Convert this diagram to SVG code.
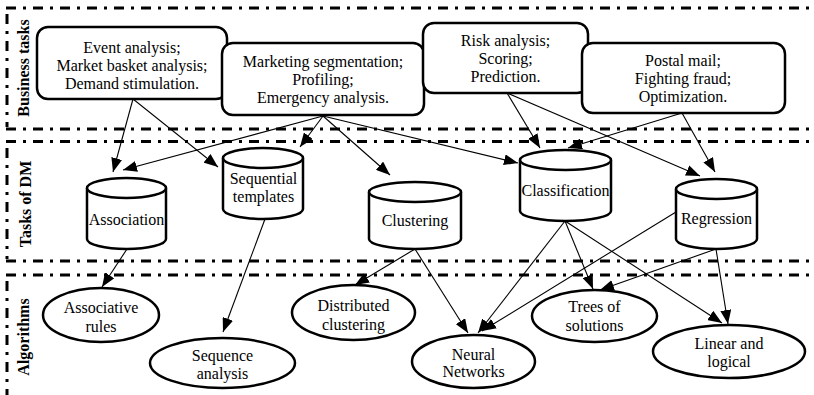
<svg xmlns="http://www.w3.org/2000/svg" width="814" height="395" viewBox="0 0 814 395">
  <style>
    .sep { fill: none; stroke: #000; stroke-width: 3; stroke-dasharray: 10 7 3 7; }
    .sec { font-family: "Liberation Serif", "Times New Roman", serif; font-size: 16px; font-weight: bold; text-anchor: middle; fill: #000; }
    .box { fill: #fff; stroke: #000; stroke-width: 2.5; }
    .shape { fill: #fff; stroke: #000; stroke-width: 2.5; }
    .lbl { font-family: "Liberation Serif", "Times New Roman", serif; font-size: 16px; text-anchor: middle; fill: #000; }
    .edge { fill: none; stroke: #000; stroke-width: 1.1; marker-end: url(#arrow); }
  </style>
  <defs>
    <marker id="arrow" viewBox="0 0 14 11" refX="14" refY="5.5" markerWidth="14" markerHeight="11" markerUnits="userSpaceOnUse" orient="auto">
      <path d="M0,0 L14,5.5 L0,11 Z" fill="#000"/>
    </marker>
  </defs>
  <rect width="814" height="395" fill="#fff"/>

  <!-- section frames -->
  <g id="sections">
    <line class="sep" x1="6" y1="8" x2="814" y2="8"/>
    <line class="sep" x1="7" y1="14" x2="7" y2="127"/>
    <line class="sep" x1="6" y1="129" x2="814" y2="129"/>
    <line class="sep" x1="6" y1="141.5" x2="814" y2="141.5"/>
    <line class="sep" x1="7" y1="148" x2="7" y2="259"/>
    <line class="sep" x1="6" y1="261" x2="814" y2="261"/>
    <line class="sep" x1="6" y1="275" x2="814" y2="275"/>
    <line class="sep" x1="7" y1="281" x2="7" y2="395"/>
    <text class="sec" transform="translate(29,68) rotate(-90)">Business tasks</text>
    <text class="sec" transform="translate(31,204) rotate(-90)">Tasks of DM</text>
    <text class="sec" transform="translate(29,337) rotate(-90)">Algorithms</text>
  </g>

  <!-- connectors -->
  <g id="connectors">
    <line class="edge" x1="133" y1="99" x2="113" y2="172"/>
    <line class="edge" x1="133" y1="99" x2="218" y2="167"/>
    <line class="edge" x1="323" y1="116" x2="123" y2="170"/>
    <line class="edge" x1="323" y1="116" x2="300" y2="147"/>
    <line class="edge" x1="323" y1="116" x2="390" y2="175"/>
    <line class="edge" x1="323" y1="116" x2="518" y2="163"/>
    <line class="edge" x1="507" y1="93" x2="540" y2="148"/>
    <line class="edge" x1="507" y1="93" x2="700" y2="176"/>
    <line class="edge" x1="682" y1="113" x2="568" y2="148"/>
    <line class="edge" x1="682" y1="113" x2="715" y2="172"/>
    <line class="edge" x1="127" y1="249" x2="102" y2="287"/>
    <line class="edge" x1="265" y1="219" x2="223" y2="332"/>
    <line class="edge" x1="415" y1="249" x2="355" y2="285"/>
    <line class="edge" x1="415" y1="249" x2="468" y2="333"/>
    <line class="edge" x1="565" y1="221" x2="478" y2="333"/>
    <line class="edge" x1="676" y1="212" x2="482" y2="331"/>
    <line class="edge" x1="565" y1="221" x2="593" y2="289"/>
    <line class="edge" x1="716" y1="249" x2="600" y2="290"/>
    <line class="edge" x1="565" y1="221" x2="722" y2="323"/>
    <line class="edge" x1="716" y1="249" x2="728" y2="324"/>
  </g>

  <!-- business tasks -->
  <g id="bt-events">
    <rect class="box" x="37" y="27" width="190" height="72" rx="11"/>
    <text class="lbl" x="132" y="53">Event analysis;</text>
    <text class="lbl" x="132" y="71">Market basket analysis;</text>
    <text class="lbl" x="132" y="89">Demand stimulation.</text>
  </g>
  <g id="bt-marketing">
    <rect class="box" x="222" y="43" width="202" height="72" rx="11"/>
    <text class="lbl" x="323" y="67">Marketing segmentation;</text>
    <text class="lbl" x="323" y="85">Profiling;</text>
    <text class="lbl" x="323" y="103">Emergency analysis.</text>
  </g>
  <g id="bt-risk">
    <rect class="box" x="423" y="23" width="165" height="70" rx="11"/>
    <text class="lbl" x="505.5" y="46">Risk analysis;</text>
    <text class="lbl" x="505.5" y="64">Scoring;</text>
    <text class="lbl" x="505.5" y="82">Prediction.</text>
  </g>
  <g id="bt-postal">
    <rect class="box" x="582" y="43" width="203" height="70" rx="11"/>
    <text class="lbl" x="683" y="66">Postal mail;</text>
    <text class="lbl" x="683" y="84">Fighting fraud;</text>
    <text class="lbl" x="683" y="102">Optimization.</text>
  </g>

  <!-- data mining tasks (cylinders) -->
  <g id="dm-association">
    <path class="shape" d="M87,188 V239 A39.5,10 0 0 0 166,239 V188 A39.5,10 0 0 0 87,188 Z"/>
    <path class="shape" d="M87,188 A39.5,10 0 0 0 166,188"/>
    <text class="lbl" x="126.5" y="225">Association</text>
  </g>
  <g id="dm-sequential">
    <path class="shape" d="M223,158 V209 A40,10 0 0 0 303,209 V158 A40,10 0 0 0 223,158 Z"/>
    <path class="shape" d="M223,158 A40,10 0 0 0 303,158"/>
    <text class="lbl" x="263.5" y="184">Sequential</text>
    <text class="lbl" x="263.5" y="202">templates</text>
  </g>
  <g id="dm-clustering">
    <path class="shape" d="M369,192 V239 A46,10 0 0 0 461,239 V192 A46,10 0 0 0 369,192 Z"/>
    <path class="shape" d="M369,192 A46,10 0 0 0 461,192"/>
    <text class="lbl" x="415" y="226">Clustering</text>
  </g>
  <g id="dm-classification">
    <path class="shape" d="M520,160 V211 A45.5,10 0 0 0 611,211 V160 A45.5,10 0 0 0 520,160 Z"/>
    <path class="shape" d="M520,160 A45.5,10 0 0 0 611,160"/>
    <text class="lbl" x="565.5" y="196">Classification</text>
  </g>
  <g id="dm-regression">
    <path class="shape" d="M676,189 V239 A40.5,10 0 0 0 757,239 V189 A40.5,10 0 0 0 676,189 Z"/>
    <path class="shape" d="M676,189 A40.5,10 0 0 0 757,189"/>
    <text class="lbl" x="716.5" y="224">Regression</text>
  </g>

  <!-- algorithms -->
  <g id="alg-assoc-rules">
    <ellipse class="shape" cx="101" cy="315" rx="58" ry="27"/>
    <text class="lbl" x="101" y="313">Associative</text>
    <text class="lbl" x="101" y="332">rules</text>
  </g>
  <g id="alg-sequence">
    <ellipse class="shape" cx="222.5" cy="363" rx="72.5" ry="25"/>
    <text class="lbl" x="222.5" y="361">Sequence</text>
    <text class="lbl" x="222.5" y="379">analysis</text>
  </g>
  <g id="alg-distributed">
    <ellipse class="shape" cx="353.5" cy="312.5" rx="61.5" ry="27.5"/>
    <text class="lbl" x="353.5" y="311">Distributed</text>
    <text class="lbl" x="353.5" y="330">clustering</text>
  </g>
  <g id="alg-neural">
    <ellipse class="shape" cx="473.5" cy="361.5" rx="61.5" ry="26.5"/>
    <text class="lbl" x="473.5" y="360">Neural</text>
    <text class="lbl" x="473.5" y="377">Networks</text>
  </g>
  <g id="alg-trees">
    <ellipse class="shape" cx="594.5" cy="316" rx="62.5" ry="26"/>
    <text class="lbl" x="594.5" y="312">Trees of</text>
    <text class="lbl" x="594.5" y="331">solutions</text>
  </g>
  <g id="alg-linear">
    <ellipse class="shape" cx="729" cy="351.5" rx="76" ry="26.5"/>
    <text class="lbl" x="729" y="349">Linear and</text>
    <text class="lbl" x="729" y="367">logical</text>
  </g>
</svg>
